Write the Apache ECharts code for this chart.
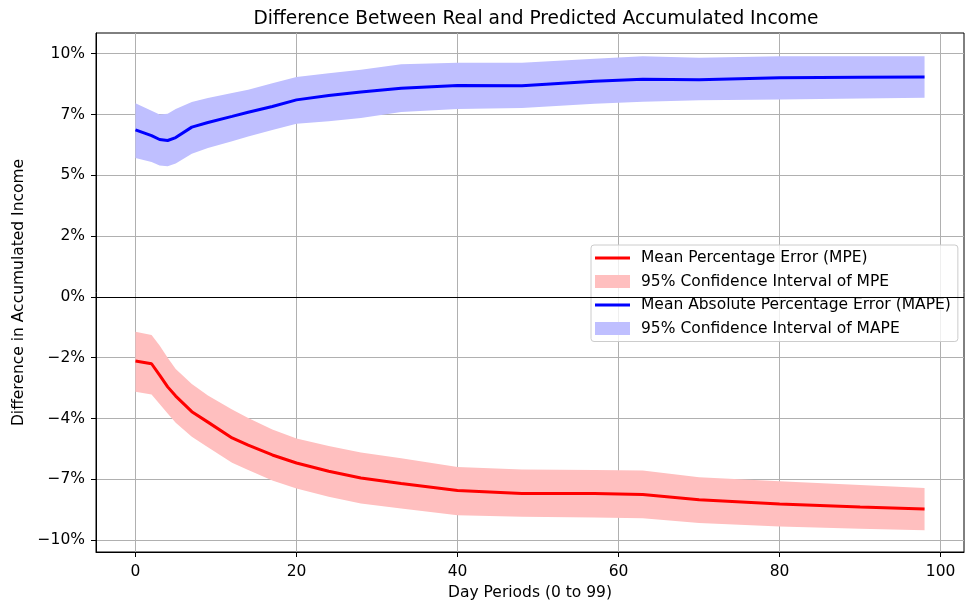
<!DOCTYPE html>
<html><head><meta charset="utf-8">
<script src="https://cdn.jsdelivr.net/npm/echarts@6/dist/echarts.min.js"></script>
<style>html,body{margin:0;padding:0;background:#fff}#c{width:965px;height:601px}</style>
</head><body><div id="c"></div>
<script>
// Day positions where values were read
const days = [0, 2, 3, 4, 5, 7, 9, 12, 14, 17, 20, 24, 28, 33, 40, 48, 57, 63, 70, 80, 90, 98];
// Mean Percentage Error (%)
const mpe     = [-2.64, -2.75, -3.22, -3.70, -4.08, -4.72, -5.15, -5.80, -6.10, -6.50, -6.83, -7.17, -7.45, -7.67, -7.96, -8.08, -8.08, -8.13, -8.34, -8.52, -8.64, -8.72];
const mpeHigh = [-1.43, -1.57, -2.00, -2.50, -2.97, -3.58, -4.05, -4.63, -4.98, -5.45, -5.82, -6.13, -6.40, -6.64, -7.00, -7.10, -7.12, -7.14, -7.42, -7.58, -7.74, -7.86];
const mpeLow  = [-3.90, -4.01, -4.40, -4.80, -5.18, -5.75, -6.18, -6.82, -7.12, -7.55, -7.88, -8.22, -8.50, -8.70, -8.98, -9.04, -9.07, -9.10, -9.30, -9.44, -9.53, -9.60];
// Mean Absolute Percentage Error (%)
const mape     = [6.87, 6.63, 6.47, 6.43, 6.55, 6.98, 7.17, 7.42, 7.59, 7.83, 8.10, 8.28, 8.42, 8.58, 8.69, 8.68, 8.87, 8.95, 8.93, 9.01, 9.03, 9.04];
const mapeHigh = [7.96, 7.65, 7.50, 7.53, 7.72, 8.01, 8.18, 8.38, 8.52, 8.78, 9.04, 9.20, 9.34, 9.56, 9.63, 9.63, 9.79, 9.89, 9.83, 9.89, 9.89, 9.89];
const mapeLow  = [5.71, 5.55, 5.40, 5.37, 5.48, 5.88, 6.12, 6.40, 6.59, 6.86, 7.12, 7.22, 7.36, 7.60, 7.72, 7.77, 7.94, 8.02, 8.08, 8.12, 8.16, 8.19];

const xTicks = [0, 20, 40, 60, 80, 100];
const yTicks = [-10, -7.5, -5, -2.5, 0, 2.5, 5, 7.5, 10];
const yTickLabels = ['−10%', '−7%', '−4%', '−2%', '0%', '2%', '5%', '7%', '10%'];

const names = {
  mpe: 'Mean Percentage Error (MPE)',
  mpeCI: '95% Confidence Interval of MPE',
  mape: 'Mean Absolute Percentage Error (MAPE)',
  mapeCI: '95% Confidence Interval of MAPE'
};

const pair = (arr) => days.map((d, i) => [d, arr[i]]);
const triple = (lo, hi) => days.map((d, i) => [d, lo[i], hi[i]]);

// One polygon per band, built from all rows through the axis scales
function makeBand(rows, color) {
  return function (params, api) {
    if (params.dataIndex !== 0) return null;
    const upper = rows.map(r => api.coord([r[0], r[2]]));
    const lower = rows.map(r => api.coord([r[0], r[1]])).reverse();
    return {
      type: 'polygon',
      shape: {points: upper.concat(lower)},
      style: {fill: color, stroke: null}
    };
  };
}

const FONT = 'DejaVu Sans';
const FS = 15.5;
const lineIcon = 'path://M0,0M0,5H35V8H0ZM35,13';

const mpeRows = triple(mpeLow, mpeHigh);
const mapeRows = triple(mapeLow, mapeHigh);

const chart = echarts.init(document.getElementById('c'), null, {renderer: 'canvas'});
chart.setOption({
  animation: false,
  backgroundColor: '#fff',
  title: {
    text: 'Difference Between Real and Predicted Accumulated Income',
    left: 531, top: 5, textAlign: 'center',
    textStyle: {fontFamily: FONT, fontSize: 18.6, fontWeight: 'normal', color: '#000'}
  },
  grid: {left: 96, right: 1, top: 33, bottom: 49, outerBoundsMode: 'none', containLabel: false,
    show: true, borderColor: '#000', borderWidth: 1, backgroundColor: 'transparent'},
  legend: {
    orient: 'vertical', left: 591, top: 245,
    padding: [5, 7, 5, 4],
    itemWidth: 35, itemHeight: 13, itemGap: 7.5,
    backgroundColor: 'rgba(255,255,255,0.8)', borderColor: '#cccccc', borderWidth: 1, borderRadius: 3,
    selectedMode: false,
    textStyle: {fontFamily: FONT, fontSize: FS, color: '#000', lineHeight: 15, padding: [0, 0, 0, 6]},
    data: [
      {name: names.mpe, icon: lineIcon},
      {name: names.mpeCI, icon: 'rect'},
      {name: names.mape, icon: lineIcon},
      {name: names.mapeCI, icon: 'rect'}
    ]
  },
  xAxis: {
    type: 'value', min: -4.9, max: 102.9,
    name: 'Day Periods (0 to 99)', nameLocation: 'middle', nameGap: 33,
    nameTextStyle: {fontFamily: FONT, fontSize: FS, color: '#000'},
    axisLine: {show: true, onZero: false, lineStyle: {color: '#000', width: 1}},
    axisTick: {show: true, length: 5, lineStyle: {color: '#000'}, customValues: xTicks},
    axisLabel: {fontFamily: FONT, fontSize: FS, color: '#000', margin: 12, customValues: xTicks, formatter: (v) => String(v)},
    splitLine: {show: true, lineStyle: {color: '#b0b0b0', width: 1}}
  },
  yAxis: {
    type: 'value', min: -10.49, max: 10.85,
    name: 'Difference in Accumulated Income', nameLocation: 'middle', nameGap: 54,
    nameTextStyle: {fontFamily: FONT, fontSize: FS, color: '#000'},
    axisLine: {show: true, onZero: false, lineStyle: {color: '#000', width: 1}},
    axisTick: {show: true, length: 5, lineStyle: {color: '#000'}, customValues: yTicks},
    axisLabel: {fontFamily: FONT, fontSize: FS, color: '#000', margin: 11, customValues: yTicks,
      formatter: (v) => { const i = yTicks.findIndex(t => Math.abs(t - v) < 1e-6); return i >= 0 ? yTickLabels[i] : ''; }},
    splitLine: {show: true, lineStyle: {color: '#b0b0b0', width: 1}}
  },
  series: [
    {
      name: names.mpeCI, type: 'custom', data: mpeRows, silent: true, clip: true,
      encode: {x: 0, y: [1, 2]},
      itemStyle: {color: '#ffbfbf'},
      renderItem: makeBand(mpeRows, '#ffbfbf'),
      markLine: {silent: true, symbol: ['none', 'none'], label: {show: false},
        lineStyle: {color: '#000', width: 1, type: 'solid'}, data: [{yAxis: 0}]}
    },
    {
      name: names.mpe, type: 'line', data: pair(mpe), symbol: 'none', silent: true,
      lineStyle: {color: '#ff0000', width: 3}, itemStyle: {color: '#ff0000'}
    },
    {
      name: names.mapeCI, type: 'custom', data: mapeRows, silent: true, clip: true,
      encode: {x: 0, y: [1, 2]},
      itemStyle: {color: '#bfbfff'},
      renderItem: makeBand(mapeRows, '#bfbfff')
    },
    {
      name: names.mape, type: 'line', data: pair(mape), symbol: 'none', silent: true,
      lineStyle: {color: '#0000ff', width: 3}, itemStyle: {color: '#0000ff'}
    }
  ]
});
</script>
</body></html>
